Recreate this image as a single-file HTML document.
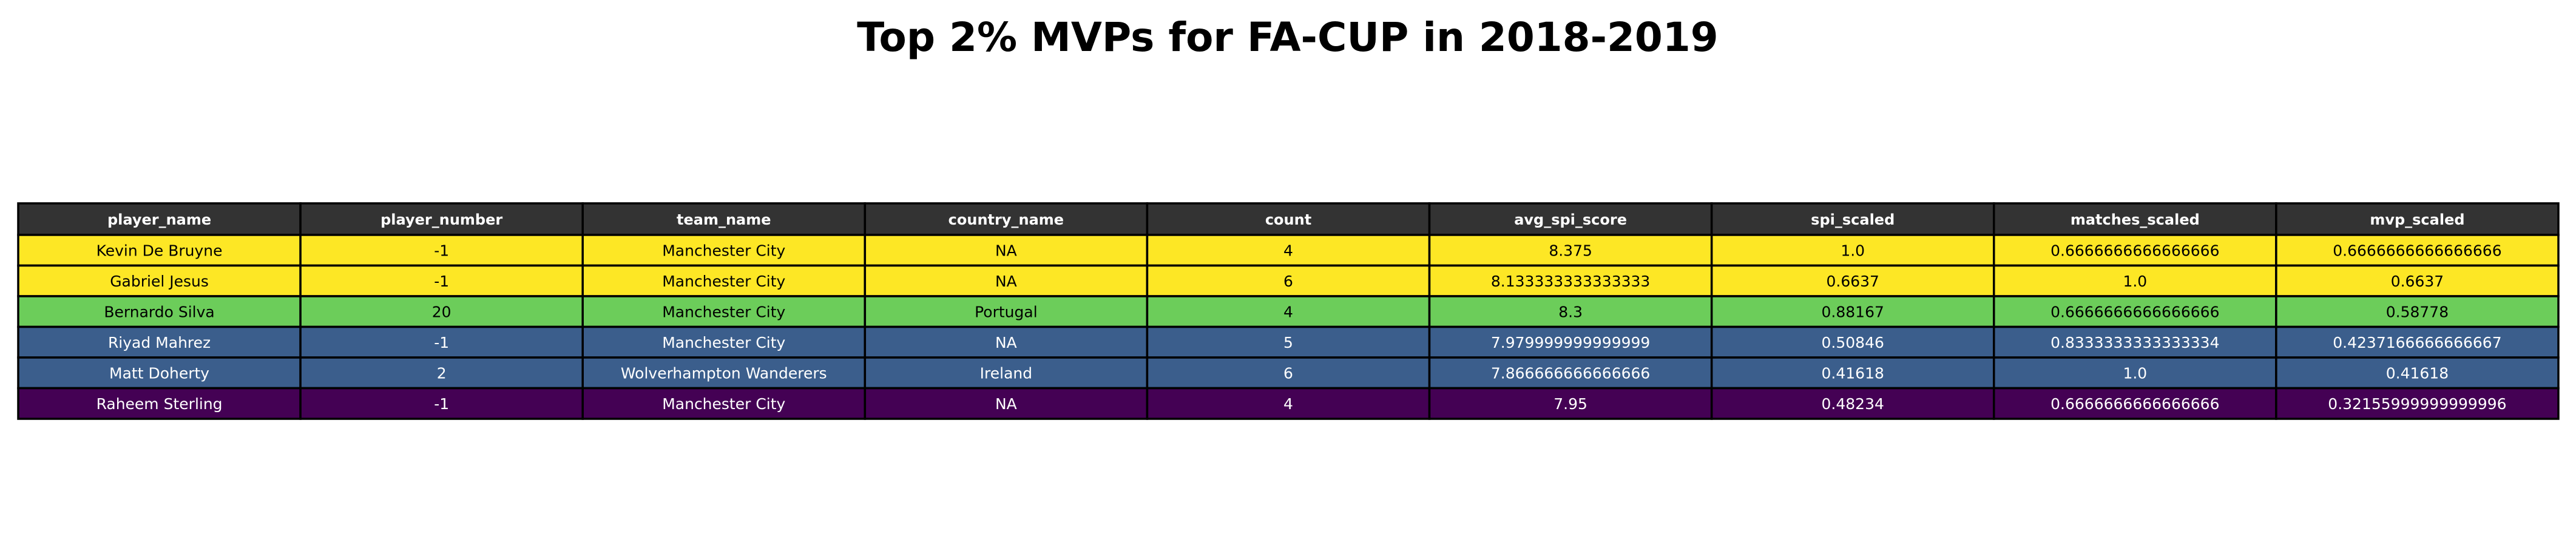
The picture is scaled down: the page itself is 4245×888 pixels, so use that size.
<!DOCTYPE html>
<html><head><meta charset="utf-8"><style>
html,body{margin:0;padding:0;background:#fff;}
svg{display:block;}
text{font-family:"DejaVu Sans","Liberation Sans",sans-serif;}
</style></head><body>
<svg id="chart" width="4245" height="888" viewBox="0 0 4245 888" xmlns="http://www.w3.org/2000/svg">
<text x="2122" y="84" text-anchor="middle" font-size="66" font-weight="bold" fill="#000">Top 2% MVPs for FA-CUP in 2018-2019</text>
<g id="tbl"></g>
</svg>
<script>
const columns = ["player_name","player_number","team_name","country_name","count","avg_spi_score","spi_scaled","matches_scaled","mvp_scaled"];
const playerNames = ["Kevin De Bruyne","Gabriel Jesus","Bernardo Silva","Riyad Mahrez","Matt Doherty","Raheem Sterling"];
const playerNumbers = ["-1","-1","20","-1","2","-1"];
const teamNames = ["Manchester City","Manchester City","Manchester City","Manchester City","Wolverhampton Wanderers","Manchester City"];
const countryNames = ["NA","NA","Portugal","NA","Ireland","NA"];
const counts = ["4","6","4","5","6","4"];
const avgSpi = ["8.375","8.133333333333333","8.3","7.979999999999999","7.866666666666666","7.95"];
const spiScaled = ["1.0","0.6637","0.88167","0.50846","0.41618","0.48234"];
const matchesScaled = ["0.6666666666666666","1.0","0.6666666666666666","0.8333333333333334","1.0","0.6666666666666666"];
const mvpScaled = ["0.6666666666666666","0.6637","0.58778","0.4237166666666667","0.41618","0.32155999999999996"];
const rowColors = ["#fde725","#fde725","#6ccd5a","#3b5e8c","#3b5e8c","#440154"];
const rowText = ["#000","#000","#000","#fff","#fff","#fff"];

const g = document.getElementById('tbl');
const NS = "http://www.w3.org/2000/svg";
const X0 = 30, X1 = 4216, Y0 = 335, HH = 52, RH = 50.5;
const cw = (X1 - X0) / columns.length;
const cols = [playerNames, playerNumbers, teamNames, countryNames, counts, avgSpi, spiScaled, matchesScaled, mvpScaled];
function cell(x, y, w, h, fill, txt, color, bold, name) {
  const r = document.createElementNS(NS, 'rect');
  r.setAttribute('x', x); r.setAttribute('y', y); r.setAttribute('width', w); r.setAttribute('height', h);
  r.setAttribute('fill', fill); r.setAttribute('stroke', '#000'); r.setAttribute('stroke-width', '3.5');
  
  
  g.appendChild(r);
  const t = document.createElementNS(NS, 'text');
  t.setAttribute('x', x + w / 2); t.setAttribute('y', y + h / 2 + 9);
  t.setAttribute('text-anchor', 'middle'); t.setAttribute('font-size', bold ? '24' : '25');
  if (bold) t.setAttribute('font-weight', 'bold');
  t.setAttribute('fill', color);
  
  
  t.textContent = txt;
  g.appendChild(t);
}
columns.forEach((c, j) => {
  cell(X0 + j * cw, Y0, cw, HH, '#333333', c, '#fff', true, 'header-' + c.replace(/_/g, '-'));
});
playerNames.forEach((p, i) => {
  cols.forEach((arr, j) => {
    cell(X0 + j * cw, Y0 + HH + i * RH, cw, RH, rowColors[i], arr[i], rowText[i], false, 'cell-r' + (i + 1) + '-' + columns[j].replace(/_/g, '-'));
  });
});
</script>
</body></html>
